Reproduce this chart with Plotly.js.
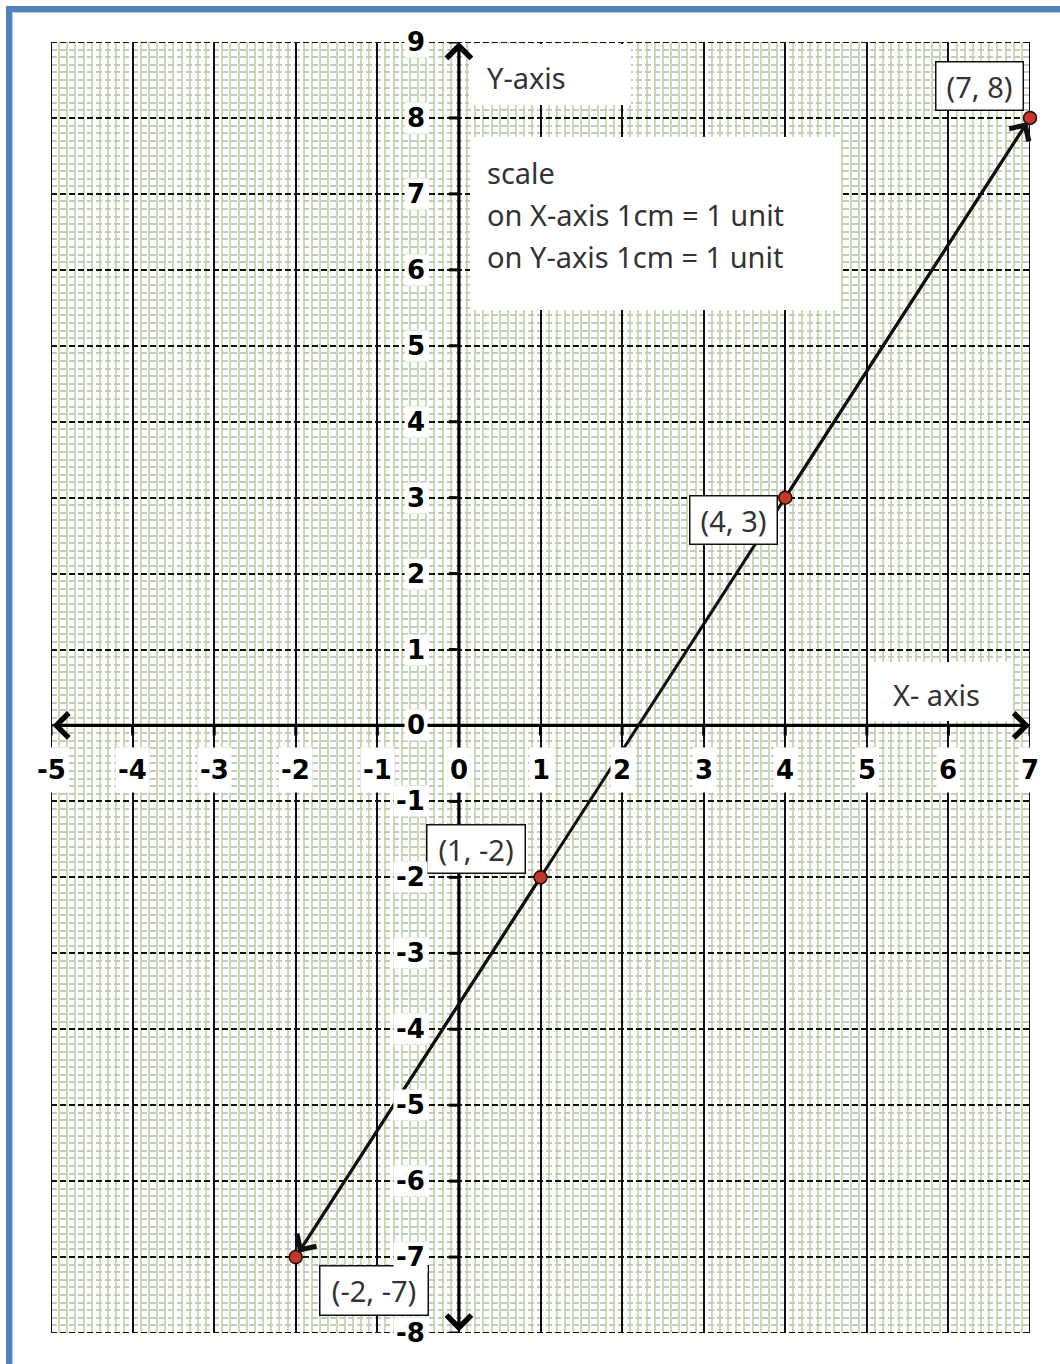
<!DOCTYPE html>
<html>
<head>
<meta charset="utf-8">
<script src="https://cdn.plot.ly/plotly-3.0.1.min.js"></script>
<style>
  html, body { margin: 0; padding: 0; background: #ffffff; }
  #chart { width: 1060px; height: 1364px; }
</style>
</head>
<body>
<div id="chart"></div>
<script>
// ---------------- data ----------------
const pointsX = [-2, 1, 4, 7];
const pointsY = [-7, -2, 3, 8];
const pointLabels = ['(-2, -7)', '(1, -2)', '(4, 3)', '(7, 8)'];
const xTicks = [-5, -4, -3, -2, -1, 0, 1, 2, 3, 4, 5, 6, 7];
const xTickLabels = ['-5', '-4', '-3', '-2', '-1', '0', '1', '2', '3', '4', '5', '6', '7'];
const yTicks = [9, 8, 7, 6, 5, 4, 3, 2, 1, 0, -1, -2, -3, -4, -5, -6, -7, -8];
const yTickLabels = ['9', '8', '7', '6', '5', '4', '3', '2', '1', '0', '-1', '-2', '-3', '-4', '-5', '-6', '-7', '-8'];
const yAxisTitle = 'Y-axis';
const xAxisTitle = 'X- axis';
const scaleLines = ['scale', 'on X-axis 1cm = 1 unit', 'on Y-axis 1cm = 1 unit'];

// ---------------- geometry helpers (pixel -> data) ----------------
const W = 1060, H = 1364;
const M = { l: 51, r: 30, t: 42, b: 31 };
const X0 = -5, X1 = 7, Y0 = -8, Y1 = 9;
const PW = W - M.l - M.r, PH = H - M.t - M.b;
const xv = px => X0 + (px - M.l) * (X1 - X0) / PW;
const yv = py => Y1 - (py - M.t) * (Y1 - Y0) / PH;
const pxp = px => (px - M.l) / PW;          // pixel -> paper x
const pyp = py => (M.t + PH - py) / PH;     // pixel -> paper y

const TXT = '#333333';
const FONT = 'Noto Sans';
const TICKFONT = 'DejaVu Sans';

// ---------------- traces ----------------
const traces = [];

// tick marks on the axes (10 px long)
const tx = [], ty = [];
const tickLenY = (Y1 - Y0) / PH * 10;
const tickLenX = (X1 - X0) / PW * 10;
xTicks.forEach(t => { if (t !== 0) { tx.push(t, t, null); ty.push(0, -tickLenY, null); } });
yTicks.forEach(t => { if (t !== 0) { tx.push(0, -tickLenX, null); ty.push(t, t, null); } });
traces.push({
  x: tx, y: ty, type: 'scatter', mode: 'lines',
  line: { color: '#000000', width: 3 }, hoverinfo: 'skip', cliponaxis: false
});

// main line with points
traces.push({
  x: pointsX, y: pointsY, type: 'scatter', mode: 'lines+markers',
  line: { color: '#111111', width: 3 },
  marker: { size: 13, color: '#c0392b', line: { color: '#2a0505', width: 1.5 } },
  cliponaxis: false, hoverinfo: 'skip'
});

// ---------------- shapes ----------------
const shapes = [];
// plot-area border lines (edge grid lines)
shapes.push({ type: 'line', xref: 'x', yref: 'y', layer: 'between', x0: X0, x1: X0, y0: Y0, y1: Y1, line: { color: '#111111', width: 2 } });
shapes.push({ type: 'line', xref: 'x', yref: 'y', layer: 'between', x0: X1, x1: X1, y0: Y0, y1: Y1, line: { color: '#111111', width: 2 } });
shapes.push({ type: 'line', xref: 'x', yref: 'y', layer: 'between', x0: X0, x1: X1, y0: Y1, y1: Y1, line: { color: '#111111', width: 2, dash: '6px,3px' } });
shapes.push({ type: 'line', xref: 'x', yref: 'y', layer: 'between', x0: X0, x1: X1, y0: Y0, y1: Y0, line: { color: '#111111', width: 2, dash: '6px,3px' } });

function whiteBox(l, r, t, b) {
  shapes.push({
    type: 'rect', xref: 'x', yref: 'y', layer: 'above',
    x0: xv(l), x1: xv(r), y0: yv(b), y1: yv(t),
    fillcolor: '#ffffff', line: { width: 0 }
  });
}
whiteBox(469, 631, 44, 105);   // Y-axis box
whiteBox(470, 840, 137, 310);  // scale box
whiteBox(868, 1013, 662, 721); // X- axis box

// blue frame
shapes.push({ type: 'rect', xref: 'paper', yref: 'paper', layer: 'above',
  x0: pxp(6), x1: pxp(1062), y0: pyp(12), y1: pyp(6), fillcolor: '#4f81bd', line: { width: 0 } });
shapes.push({ type: 'rect', xref: 'paper', yref: 'paper', layer: 'above',
  x0: pxp(6), x1: pxp(12), y0: pyp(1366), y1: pyp(6), fillcolor: '#4f81bd', line: { width: 0 } });
shapes.push({ type: 'rect', xref: 'paper', yref: 'paper', layer: 'above',
  x0: pxp(12), x1: pxp(1062), y0: pyp(13), y1: pyp(12), fillcolor: '#b8cce4', line: { width: 0 } });
shapes.push({ type: 'rect', xref: 'paper', yref: 'paper', layer: 'above',
  x0: pxp(12), x1: pxp(13), y0: pyp(1366), y1: pyp(12), fillcolor: '#b8cce4', line: { width: 0 } });

// ---------------- annotations ----------------
const ann = [];
function arrow(x, y, ax, ay, opts) {
  ann.push(Object.assign({
    x: x, y: y, ax: ax, ay: ay, xref: 'x', yref: 'y', axref: 'x', ayref: 'y',
    text: '', showarrow: true, font: { size: 1 }, arrowcolor: '#000000'
  }, opts));
}
// axes with arrows at both ends
arrow(X1, 0, X0, 0, { arrowside: 'end+start', arrowhead: 4, startarrowhead: 4,
  arrowsize: 1.5, startarrowsize: 1.5, arrowwidth: 3.2, standoff: 0, startstandoff: 0 });
arrow(0, Y1, 0, Y0, { arrowside: 'end+start', arrowhead: 4, startarrowhead: 4,
  arrowsize: 1.5, startarrowsize: 1.5, arrowwidth: 3.2, standoff: 0, startstandoff: 0 });
// arrow heads on the plotted line
arrow(pointsX[3], pointsY[3], pointsX[2], pointsY[2], { arrowhead: 4, arrowsize: 1.5,
  arrowwidth: 3, arrowcolor: '#111111', standoff: 5, startstandoff: 8 });
arrow(pointsX[0], pointsY[0], pointsX[1], pointsY[1], { arrowhead: 4, arrowsize: 1.5,
  arrowwidth: 3, arrowcolor: '#111111', standoff: 5, startstandoff: 8 });

// plain texts inside white boxes
function txt(text, pxl, pyc) {
  ann.push({ text: text, x: xv(pxl), y: yv(pyc), xref: 'x', yref: 'y',
    xanchor: 'left', yanchor: 'middle', showarrow: false, borderpad: 0,
    font: { family: FONT, size: 29, color: TXT } });
}
txt(yAxisTitle, 486, 77);
txt(scaleLines[0], 486, 172);
txt(scaleLines[1], 486, 214);
txt(scaleLines[2], 486, 256);
txt(xAxisTitle, 892, 694);

// bordered point labels
const labelBoxes = [
  [319, 429, 1265, 1316],
  [426, 526, 824, 874],
  [689, 778, 495, 545],
  [935, 1024, 61, 111]
];
pointLabels.forEach((lab, i) => {
  const [l, r, t, b] = labelBoxes[i];
  ann.push({ text: lab, x: xv(l), y: yv(t), xref: 'x', yref: 'y',
    xanchor: 'left', yanchor: 'top', showarrow: false,
    width: r - l - 3, height: b - t - 3, borderpad: 0, borderwidth: 1.5,
    bordercolor: '#111111', bgcolor: '#ffffff', align: 'center', valign: 'middle',
    font: { family: FONT, size: 29, color: TXT } });
});

// tick labels with white backgrounds
xTicks.forEach((t, i) => {
  ann.push({ text: '<b>' + xTickLabels[i] + '</b>', x: t, y: yv(770), xref: 'x', yref: 'y',
    xanchor: 'center', yanchor: 'middle', showarrow: false, bgcolor: '#ffffff',
    height: 40, borderpad: 2,
    font: { family: TICKFONT, size: 26, color: '#000000' } });
});
yTicks.forEach((t, i) => {
  ann.push({ text: '<b>' + yTickLabels[i] + '</b>', x: xv(428), y: t, xref: 'x', yref: 'y',
    xanchor: 'right', yanchor: 'middle', showarrow: false, bgcolor: '#ffffff',
    height: 26, borderpad: 2,
    font: { family: TICKFONT, size: 26, color: '#000000' } });
});

// ---------------- layout ----------------
const layout = {
  width: W, height: H,
  margin: M,
  paper_bgcolor: '#ffffff', plot_bgcolor: '#ffffff',
  showlegend: false,
  xaxis: {
    range: [X0, X1], tick0: 0, dtick: 1, showgrid: true,
    gridcolor: '#111111', gridwidth: 2, zeroline: false, showline: false,
    ticks: '', showticklabels: false, fixedrange: true,
    minor: { tick0: 0, dtick: 0.1, showgrid: true, gridcolor: '#c9dcae', gridwidth: 2, ticks: '' }
  },
  yaxis: {
    range: [Y0, Y1], tick0: 0, dtick: 1, showgrid: true,
    gridcolor: '#111111', gridwidth: 2, griddash: '6px,3px', zeroline: false, showline: false,
    ticks: '', showticklabels: false, fixedrange: true,
    minor: { tick0: 0, dtick: 0.1, showgrid: true, gridcolor: '#c6c6c6', gridwidth: 2, ticks: '' }
  },
  shapes: shapes,
  annotations: ann
};

Plotly.newPlot('chart', traces, layout, { displayModeBar: false, staticPlot: true });
</script>
</body>
</html>
